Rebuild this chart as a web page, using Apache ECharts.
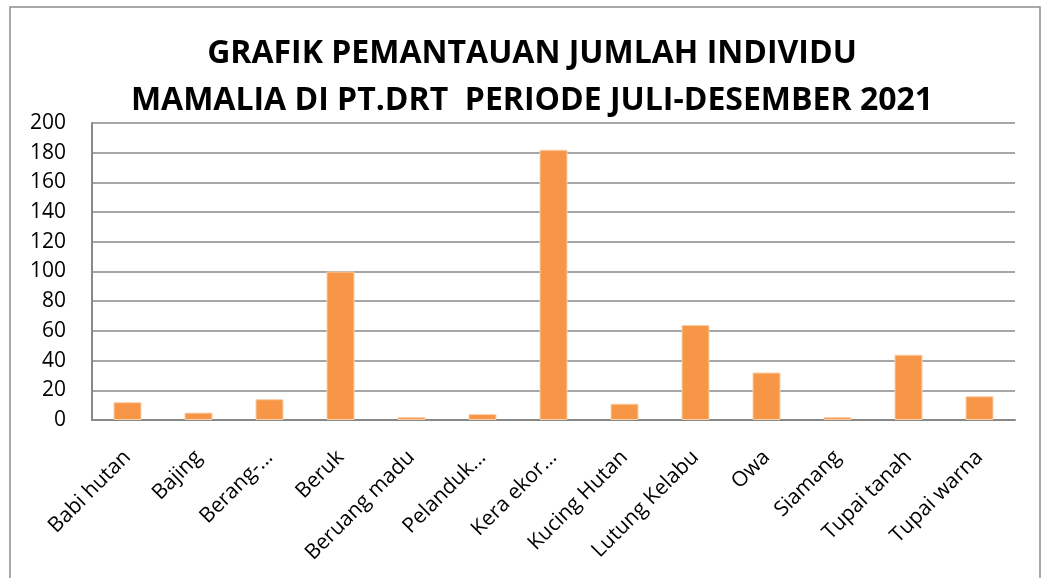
<!DOCTYPE html>
<html>
<head>
<meta charset="utf-8">
<script src="https://cdn.jsdelivr.net/npm/echarts@6/dist/echarts.min.js"></script>
<style>
  html, body { margin: 0; padding: 0; background: #fff; }
  #chart { width: 1045px; height: 578px; }
</style>
</head>
<body>
<div id="chart"></div>
<script>
var categories = ['Babi hutan', 'Bajing', 'Berang-...', 'Beruk', 'Beruang madu', 'Pelanduk...',
  'Kera ekor...', 'Kucing Hutan', 'Lutung Kelabu', 'Owa', 'Siamang', 'Tupai tanah', 'Tupai warna']
var jumlah = [12, 5, 14, 100, 2, 4, 182, 11, 64, 32, 2, 44, 16]
var titleLines = ['GRAFIK PEMANTAUAN JUMLAH INDIVIDU', 'MAMALIA DI PT.DRT  PERIODE JULI-DESEMBER 2021']

var chart = echarts.init(document.getElementById('chart'))
var fontFam = 'Open Sans, Liberation Sans, sans-serif'

var option = {
  backgroundColor: '#fff',
  animation: false,
  graphic: [{
    type: 'rect',
    shape: { x: 10, y: 7, width: 1030, height: 620 },
    style: { fill: 'none', stroke: '#8c8c8c', lineWidth: 1.5 }
  }],
  title: {
    text: titleLines.join('\n'),
    left: 527,
    textAlign: 'center',
    top: 25,
    textStyle: {
      fontFamily: fontFam,
      fontWeight: 'bold',
      fontSize: 32,
      lineHeight: 47,
      color: '#000'
    }
  },
  grid: { left: 92, right: 30, top: 123, bottom: 158 },
  xAxis: {
    type: 'category',
    data: categories,
    axisLine: { lineStyle: { color: '#888', width: 2 } },
    axisTick: { show: false },
    axisLabel: {
      rotate: 45,
      interval: 0,
      margin: 34,
      fontFamily: fontFam,
      fontSize: 21,
      color: '#000'
    }
  },
  yAxis: {
    type: 'value',
    min: 0,
    max: 200,
    interval: 20,
    axisLine: { show: true, lineStyle: { color: '#888', width: 2 } },
    axisTick: { show: false },
    splitLine: { lineStyle: { color: '#888', width: 1.5 } },
    axisLabel: {
      margin: 26,
      fontFamily: fontFam,
      fontSize: 21,
      color: '#000'
    }
  },
  series: [{
    type: 'bar',
    data: jumlah,
    barWidth: 28,
    itemStyle: { color: '#f79646', borderColor: '#fbd0ac', borderWidth: 1 }
  }]
}

chart.setOption(option)
</script>
</body>
</html>
